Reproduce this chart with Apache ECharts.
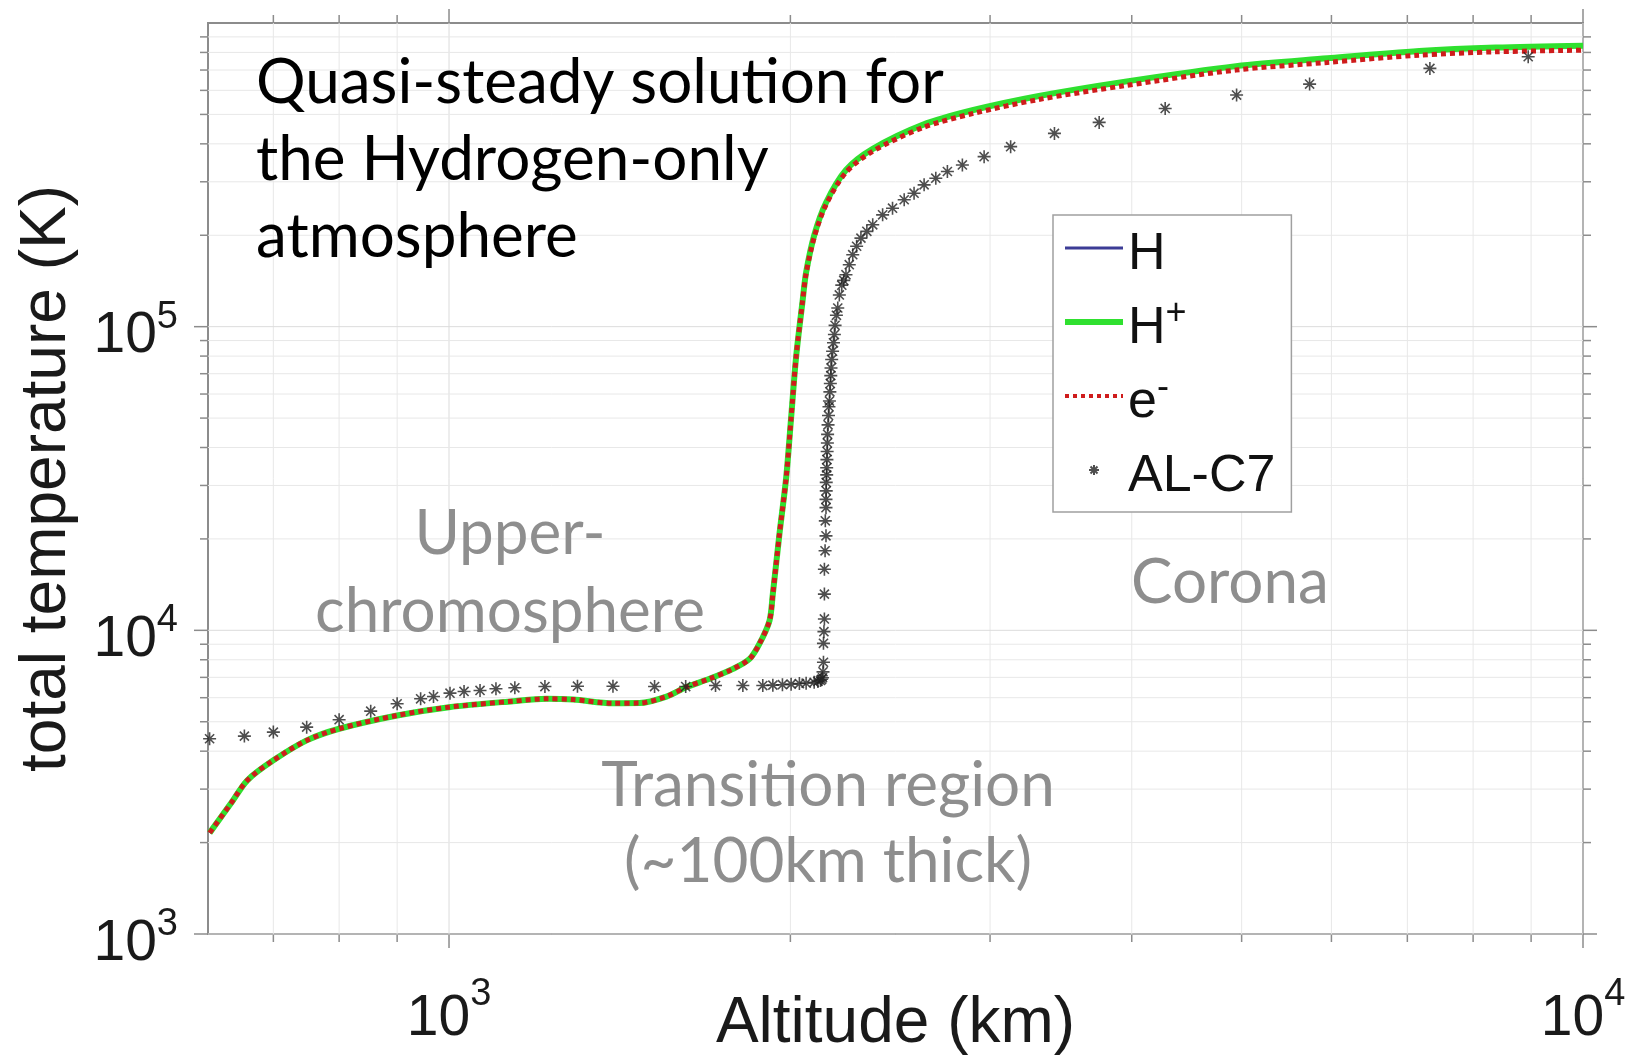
<!DOCTYPE html>
<html>
<head>
<meta charset="utf-8">
<script src="https://cdn.jsdelivr.net/npm/echarts@6/dist/echarts.min.js"></script>
<style>
  html, body { margin: 0; padding: 0; background: #fff; }
  #chart { width: 1631px; height: 1059px; }
</style>
</head>
<body>
<div id="chart"></div>
<script>
// model solution (km, K)
const altModel = [615, 642, 664, 700, 749, 800, 900, 1000, 1139, 1219, 1287, 1395, 1472, 1555, 1618, 1697, 1780, 1841, 1878, 1917, 1930, 1956, 1983, 2003, 2023, 2050, 2065, 2100, 2150, 2239, 2364, 2616, 2894, 3313, 3947, 4943, 5952, 7171, 8375, 10000]
const tempE = [2153, 2688, 3208, 3731, 4341, 4742, 5245, 5585, 5844, 5950, 5916, 5754, 5760, 6050, 6495, 6925, 7465, 8050, 9020, 10760, 13180, 20740, 31830, 50120, 78900, 121200, 150000, 198000, 252000, 322000, 378000, 452000, 503000, 560000, 622000, 700000, 741500, 783500, 803700, 813700]
const tempHplus = [2153, 2688, 3208, 3731, 4341, 4742, 5245, 5585, 5844, 5950, 5916, 5754, 5760, 6050, 6495, 6925, 7465, 8050, 9020, 10760, 13180, 20740, 31830, 50120, 78900, 121200, 151000, 201000, 256000, 328000, 385000, 462000, 516000, 575000, 641000, 721000, 765000, 808000, 830000, 842000]
const tempH = [2153, 2688, 3208, 3731, 4341, 4742, 5245, 5585, 5844, 5950, 5916, 5754, 5760, 6050, 6495, 6925, 7465, 8050, 9020, 10760, 13180, 20740, 31830, 50120, 78900, 121200, 151000, 201000, 256000, 328000, 385000, 462000, 516000, 575000, 641000, 721000, 765000, 808000, 830000, 842000]

// AL-C7 reference atmosphere
const altC7 = [615, 660, 700, 749, 800, 853, 900, 944, 969, 1002, 1031, 1065, 1100, 1143, 1215, 1298, 1395, 1518, 1617, 1718, 1816, 1891, 1930, 1968, 2003, 2037, 2065, 2099, 2115, 2126, 2131, 2135, 2137, 2139, 2139, 2141, 2143, 2143, 2143, 2146, 2150, 2147, 2150, 2150, 2151, 2151, 2153, 2153, 2154, 2155, 2156, 2157, 2159, 2161, 2163, 2165, 2167, 2169, 2171, 2172, 2175, 2179, 2183, 2187, 2190, 2196, 2202, 2209, 2220, 2229, 2239, 2254, 2270, 2288, 2308, 2336, 2364, 2412, 2461, 2520, 2571, 2624, 2687, 2751, 2836, 2964, 3128, 3419, 3744, 4281, 4949, 5740, 7328, 8947]
const tempC7 = [4395, 4484, 4622, 4800, 5077, 5418, 5728, 5950, 6055, 6210, 6290, 6338, 6419, 6468, 6531, 6546, 6546, 6531, 6531, 6580, 6580, 6580, 6600, 6620, 6650, 6680, 6700, 6745, 6790, 6840, 6900, 6980, 7300, 7850, 9060, 9900, 10900, 13160, 15900, 18280, 20470, 22940, 25350, 27000, 28800, 30700, 32500, 34300, 36500, 38800, 41400, 44200, 47500, 51000, 54500, 56900, 61000, 65000, 69000, 73100, 78000, 83000, 88500, 94200, 101000, 109000, 115200, 127200, 137000, 142000, 148300, 160000, 172600, 184000, 195700, 206000, 216500, 233500, 245500, 261800, 275100, 293100, 308300, 324300, 340800, 363000, 391500, 433000, 470600, 523100, 579000, 629300, 708800, 774200]

const xMajorTicks = [1000, 10000]
const xMinorTicks = [700, 800, 900, 2000, 3000, 4000, 5000, 6000, 7000, 8000, 9000]
const yMajorTicks = [1000, 10000, 100000]
const yMinorTicks = [2000, 3000, 4000, 5000, 6000, 7000, 8000, 9000,
  20000, 30000, 40000, 50000, 60000, 70000, 80000, 90000,
  200000, 300000, 400000, 500000, 600000, 700000, 800000, 900000]

const X_MIN = 613
const X_MAX = 10000
const Y_MIN = 1000
const Y_MAX = 1000000

const FRAME = '#8c8c8c'
const SANS = '"Liberation Sans", Arial, Helvetica, sans-serif'
const GILL = 'Lato, "Open Sans", sans-serif'

const zip = (xs, ys) => xs.map((x, i) => [x, ys[i]])

function powLabel(v) {
  const e = Math.log10(v)
  if (Math.abs(e - Math.round(e)) > 1e-6) return ''
  if (Math.round(e) === 6) return ''
  return '{b|10}{s|' + Math.round(e) + '}'
}

function tickRich(lift) {
  return {
    b: { fontSize: 57, lineHeight: 57, padding: [lift, 0, 0, 0], fontFamily: SANS, color: '#1a1a1a' },
    s: { fontSize: 38, lineHeight: 38, verticalAlign: 'top', fontFamily: SANS, color: '#1a1a1a' },
  }
}

// grid line + outward ticks on both sides of the box
function tickRenderer(isX, major) {
  return function (params, api) {
    const cs = params.coordSys
    const len = major ? 14 : 8
    const gridStyle = { stroke: major ? '#dcdcdc' : '#e8e8e8', lineWidth: 1 }
    const tickStyle = { stroke: FRAME, lineWidth: 1.5 }
    if (isX) {
      const x = api.coord([api.value(0), Y_MIN])[0]
      return {
        type: 'group',
        children: [
          { type: 'line', shape: { x1: x, y1: cs.y, x2: x, y2: cs.y + cs.height }, style: gridStyle },
          { type: 'line', shape: { x1: x, y1: cs.y + cs.height, x2: x, y2: cs.y + cs.height + len }, style: tickStyle },
          { type: 'line', shape: { x1: x, y1: cs.y, x2: x, y2: cs.y - len }, style: tickStyle },
        ],
      }
    }
    const y = api.coord([X_MIN, api.value(1)])[1]
    return {
      type: 'group',
      children: [
        { type: 'line', shape: { x1: cs.x, y1: y, x2: cs.x + cs.width, y2: y }, style: gridStyle },
        { type: 'line', shape: { x1: cs.x - len, y1: y, x2: cs.x, y2: y }, style: tickStyle },
        { type: 'line', shape: { x1: cs.x + cs.width, y1: y, x2: cs.x + cs.width + len, y2: y }, style: tickStyle },
      ],
    }
  }
}

function tickSeries(values, isX, major) {
  return {
    type: 'custom',
    silent: true,
    clip: false,
    z: 1,
    renderItem: tickRenderer(isX, major),
    encode: { x: 0, y: 1 },
    data: values.map((v) => (isX ? [v, Y_MIN] : [X_MIN, v])),
  }
}

const asterisk = 'path://M5,0L5,10M0,5L10,5M1.5,1.5L8.5,8.5M1.5,8.5L8.5,1.5'

const chart = echarts.init(document.getElementById('chart'))

chart.setOption({
  animation: false,
  backgroundColor: '#fff',
  grid: {
    left: 208, right: 48, top: 23, bottom: 125,
    containLabel: false,
    outerBoundsMode: 'none',
    show: true, borderColor: FRAME, borderWidth: 2, backgroundColor: '#fff',
  },
  xAxis: {
    type: 'log',
    logBase: 10,
    min: X_MIN,
    max: X_MAX,
    name: 'Altitude (km)',
    nameLocation: 'middle',
    nameGap: 58,
    nameMoveOverlap: false,
    nameTextStyle: { fontSize: 64, fontFamily: SANS, color: '#1a1a1a' },
    axisLine: { show: false },
    axisTick: { show: false },
    splitLine: { show: false },
    axisLabel: { margin: 42, formatter: powLabel, rich: tickRich(30), showMaxLabel: true, showMinLabel: true },
  },
  yAxis: {
    type: 'log',
    logBase: 10,
    min: Y_MIN,
    max: Y_MAX,
    name: 'total temperature (K)',
    nameLocation: 'middle',
    nameGap: 129,
    nameMoveOverlap: false,
    nameTextStyle: { fontSize: 64, fontFamily: SANS, color: '#1a1a1a' },
    axisLine: { show: false },
    axisTick: { show: false },
    splitLine: { show: false },
    axisLabel: { margin: 30, formatter: powLabel, rich: tickRich(20) },
  },
  legend: {
    data: [
      { name: 'H', itemStyle: { opacity: 0 }, lineStyle: { width: 3 } },
      { name: 'H+', itemStyle: { opacity: 0 }, lineStyle: { width: 6 } },
      { name: 'e-', itemStyle: { opacity: 0 }, lineStyle: { width: 4, type: [4, 4] } },
      { name: 'AL-C7' },
    ],
    orient: 'vertical',
    left: 1053,
    top: 215,
    itemWidth: 58,
    itemHeight: 10,
    itemGap: 8,
    padding: [0, 16, 9, 9],
    borderColor: '#a0a0a0',
    borderWidth: 1.5,
    backgroundColor: '#fff',
    formatter: (name) => {
      if (name === 'H+') return '{b|H}{s|+}'
      if (name === 'e-') return '{b|e}{s|-}'
      return '{b|' + name + '}'
    },
    textStyle: {
      rich: {
        b: { fontSize: 52, lineHeight: 52, padding: [14, 0, 0, 0], fontFamily: SANS, color: '#111' },
        s: { fontSize: 36, lineHeight: 36, verticalAlign: 'top', fontFamily: SANS, color: '#111' },
      },
    },
  },
  graphic: [
    {
      type: 'text', left: 256, top: 44, z: 100,
      style: {
        text: 'Quasi-steady solution for\nthe Hydrogen-only\natmosphere',
        font: '62px ' + GILL, fill: '#000', lineHeight: 77,
      },
    },
    { type: 'text', x: 510, y: 534, z: 100, style: { text: 'Upper-', font: '62px ' + GILL, fill: '#8e8e8e', align: 'center', verticalAlign: 'middle' } },
    { type: 'text', x: 510, y: 612, z: 100, style: { text: 'chromosphere', font: '62px ' + GILL, fill: '#8e8e8e', align: 'center', verticalAlign: 'middle' } },
    { type: 'text', x: 1230, y: 583, z: 100, style: { text: 'Corona', font: '62px ' + GILL, fill: '#8e8e8e', align: 'center', verticalAlign: 'middle' } },
    { type: 'text', x: 828, y: 786, z: 100, style: { text: 'Transition region', font: '62px ' + GILL, fill: '#8e8e8e', align: 'center', verticalAlign: 'middle' } },
    { type: 'text', x: 828, y: 862, z: 100, style: { text: '(~100km thick)', font: '62px ' + GILL, fill: '#8e8e8e', align: 'center', verticalAlign: 'middle' } },
  ],
  series: [
    tickSeries(xMinorTicks, true, false),
    tickSeries(xMajorTicks, true, true),
    tickSeries(yMinorTicks, false, false),
    tickSeries(yMajorTicks, false, true),
    {
      name: 'H',
      type: 'line',
      symbol: 'none',
      smooth: 0.3,
      z: 3,
      lineStyle: { color: '#3c3c96', width: 3 },
      itemStyle: { color: '#3c3c96' },
      data: zip(altModel, tempH),
    },
    {
      name: 'H+',
      type: 'line',
      symbol: 'none',
      smooth: 0.3,
      z: 4,
      lineStyle: { color: '#2fe02f', width: 6 },
      itemStyle: { color: '#2fe02f' },
      data: zip(altModel, tempHplus),
    },
    {
      name: 'e-',
      type: 'line',
      symbol: 'none',
      smooth: 0.3,
      z: 5,
      lineStyle: { color: '#cf1c1c', width: 5, type: [5, 4] },
      itemStyle: { color: '#cf1c1c' },
      data: zip(altModel, tempE),
    },
    {
      name: 'AL-C7',
      type: 'scatter',
      symbol: asterisk,
      symbolSize: 13,
      z: 6,
      itemStyle: { color: '#222', borderColor: '#222', borderWidth: 1.6 },
      data: zip(altC7, tempC7),
    },
  ],
})
</script>
</body>
</html>
